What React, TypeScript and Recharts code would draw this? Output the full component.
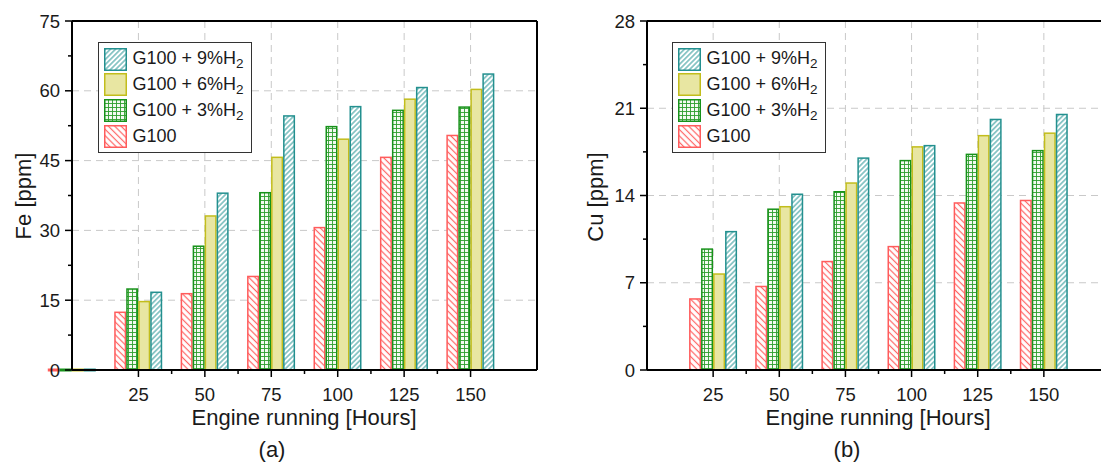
import { BarChart, Bar, XAxis, YAxis, CartesianGrid, ReferenceLine } from 'recharts'

// engine running time [h]
const feHours = [0, 25, 50, 75, 100, 125, 150]
const cuHours = [25, 50, 75, 100, 125, 150]

// Fe [ppm]
const feG100 = [0, 12.4, 16.4, 20.1, 30.6, 45.7, 50.4]
const feH3 = [0, 17.4, 26.6, 38.1, 52.3, 55.8, 56.5]
const feH6 = [0, 14.7, 33.1, 45.7, 49.6, 58.2, 60.3]
const feH9 = [0, 16.7, 38.0, 54.6, 56.6, 60.7, 63.6]

// Cu [ppm]
const cuG100 = [5.7, 6.7, 8.7, 9.9, 13.4, 13.6]
const cuH3 = [9.7, 12.9, 14.3, 16.8, 17.3, 17.6]
const cuH6 = [7.7, 13.1, 15.0, 17.9, 18.8, 19.0]
const cuH9 = [11.1, 14.1, 17.0, 18.0, 20.1, 20.5]

const hourTicks = [25, 50, 75, 100, 125, 150]
const hourMinorTicks = [37.5, 62.5, 87.5, 112.5, 137.5]
const feTicks = [0, 15, 30, 45, 60, 75]
const feMinorTicks = [7.5, 22.5, 37.5, 52.5, 67.5]
const cuTicks = [0, 7, 14, 21, 28]
const cuMinorTicks = [3.5, 10.5, 17.5, 24.5]

const HOUR_MAX = 175
const FONT = '"Liberation Sans", Arial, sans-serif'
const TEXT = '#1a1a1a'

const SERIES = [
  { key: 'g100', label: 'G100', sub: '', stroke: '#FF5C5C', fill: 'url(#pat-g100)' },
  { key: 'h3', label: 'G100 + 3%H', sub: '2', stroke: '#17921A', fill: 'url(#pat-h3)' },
  { key: 'h6', label: 'G100 + 6%H', sub: '2', stroke: '#C2BD1C', fill: '#E8E6A2' },
  { key: 'h9', label: 'G100 + 9%H', sub: '2', stroke: '#23908F', fill: 'url(#pat-h9)' },
]

const feData = feHours.map((h, i) => ({ hours: h, g100: feG100[i], h3: feH3[i], h6: feH6[i], h9: feH9[i] }))
const cuData = cuHours.map((h, i) => ({ hours: h, g100: cuG100[i], h3: cuH3[i], h6: cuH6[i], h9: cuH9[i] }))

const sortNum = (a: number[]) => [...a].sort((p, q) => p - q)

function Patterns() {
  return (
    <svg width={0} height={0} style={{ position: 'absolute' }}>
      <defs>
        <pattern id="pat-g100" patternUnits="userSpaceOnUse" width={4.5} height={4.5} patternTransform="rotate(-45)">
          <rect width={4.5} height={4.5} fill="#fff" />
          <line x1={2.25} y1={0} x2={2.25} y2={4.5} stroke="#FF6363" strokeWidth={1.2} />
        </pattern>
        <pattern id="pat-h9" patternUnits="userSpaceOnUse" width={3.6} height={3.6} patternTransform="rotate(45)">
          <rect width={3.6} height={3.6} fill="#fff" />
          <line x1={1.8} y1={0} x2={1.8} y2={3.6} stroke="#2A9797" strokeWidth={1} />
        </pattern>
        <pattern id="pat-h3" patternUnits="userSpaceOnUse" width={4} height={4}>
          <rect width={4} height={4} fill="#F3FAF1" />
          <path d="M0 0.5 H4 M0.5 0 V4" stroke="#2C9E2C" strokeWidth={0.9} />
        </pattern>
      </defs>
    </svg>
  )
}

const BarShape = (props: any) => {
  const { x, y, width, height, color, pattern } = props
  if (!height || Math.abs(height) < 0.5) {
    // zero readings still show as a flat coloured edge on the baseline
    return <line x1={x} x2={x + width} y1={y} y2={y} stroke={color} strokeWidth={3} />
  }
  return <rect x={x + 0.75} y={y} width={width - 1.5} height={height} fill={pattern} stroke={color} strokeWidth={1.5} />
}

const XTick = (props: any) => {
  const { x, y, payload } = props
  const major = hourTicks.includes(payload.value)
  return (
    <g>
      <line x1={x} x2={x} y1={y} y2={y + (major ? 7 : 4)} stroke="#000" strokeWidth={1.5} />
      {major && (
        <text x={x} y={y + 31} textAnchor="middle" fontSize={18.5} fill={TEXT} fontFamily={FONT}>
          {payload.value}
        </text>
      )}
    </g>
  )
}

const makeYTick = (majors: number[]) => (props: any) => {
  const { x, y, payload } = props
  const major = majors.includes(payload.value)
  return (
    <g>
      <line x1={x - (major ? 7 : 4)} x2={x} y1={y} y2={y} stroke="#000" strokeWidth={1.5} />
      {major && (
        <text x={x - 12} y={y + 6.6} textAnchor="end" fontSize={18.5} fill={TEXT} fontFamily={FONT}>
          {payload.value}
        </text>
      )}
    </g>
  )
}

function SeriesLegend({ left, top }: { left: number; top: number }) {
  return (
    <div
      style={{
        position: 'absolute', left, top, width: 154, height: 111, boxSizing: 'border-box',
        border: '1.5px solid #333', background: '#fff',
      }}
    >
      {[...SERIES].reverse().map((s, i) => (
        <div key={s.key} style={{ position: 'absolute', left: 4.5, top: 4.5 + i * 25.9, height: 23, display: 'flex', alignItems: 'center' }}>
          <svg width={23} height={23} style={{ display: 'block' }}>
            <rect x={0.75} y={0.75} width={21.5} height={21.5} fill={s.fill} stroke={s.stroke} strokeWidth={1.5} />
          </svg>
          <span style={{ marginLeft: 6, fontSize: 18, color: TEXT, whiteSpace: 'nowrap', lineHeight: '23px' }}>
            {s.label}
            {s.sub && <span style={{ fontSize: 13.5, position: 'relative', top: 4 }}>{s.sub}</span>}
          </span>
        </div>
      ))}
    </div>
  )
}

interface PanelProps {
  data: any[]
  left: number
  yWidth: number
  right: number
  yMax: number
  yTicks: number[]
  yMinor: number[]
}

function Panel({ data, left, yWidth, right, yMax, yTicks, yMinor }: PanelProps) {
  const yGrid = yTicks.filter((t) => t > 0 && t < yMax)
  return (
    <div style={{ position: 'absolute', left, top: 0 }}>
      <BarChart width={560} height={464} data={data} margin={{ top: 21, right, left: 0, bottom: 0 }} barGap={0} barSize={12}>
        <CartesianGrid stroke="#C9C9C9" strokeDasharray="7 5" verticalValues={hourTicks} horizontalValues={yGrid} />
        <XAxis
          dataKey="hours"
          type="number"
          domain={[0, HOUR_MAX]}
          ticks={sortNum([...hourTicks, ...hourMinorTicks])}
          interval={0}
          height={94}
          stroke="#000"
          tickSize={0}
          tickMargin={0}
          tickLine={false}
          axisLine={{ stroke: '#000', strokeWidth: 2 }}
          tick={(p: any) => <XTick {...p} />}
        />
        <YAxis
          type="number"
          domain={[0, yMax]}
          ticks={sortNum([...yTicks, ...yMinor])}
          interval={0}
          width={yWidth}
          stroke="#000"
          tickSize={0}
          tickMargin={0}
          tickLine={false}
          axisLine={{ stroke: '#000', strokeWidth: 2 }}
          tick={makeYTick(yTicks)}
        />
        <ReferenceLine y={yMax} stroke="#000" strokeWidth={2} />
        <ReferenceLine x={HOUR_MAX} stroke="#000" strokeWidth={2} />
        {SERIES.map((s) => (
          <Bar
            key={s.key}
            dataKey={s.key}
            name={s.label + s.sub}
            barSize={12}
            isAnimationActive={false}
            shape={(p: any) => <BarShape {...p} color={s.stroke} pattern={s.fill} />}
          />
        ))}
      </BarChart>
    </div>
  )
}

const centered = (x: number, y: number, rotate = false) => ({
  position: 'absolute' as const,
  left: x,
  top: y,
  transform: 'translate(-50%, -50%)' + (rotate ? ' rotate(-90deg)' : ''),
  fontSize: 22,
  color: TEXT,
  whiteSpace: 'nowrap' as const,
})

export default function App() {
  return (
    <div style={{ position: 'absolute', left: 0, top: 0, width: 1101, height: 464, overflow: 'hidden', background: '#fff', fontFamily: FONT }}>
      <Patterns />
      <Panel data={feData} left={0} yWidth={72} right={23} yMax={75} yTicks={feTicks} yMinor={feMinorTicks} />
      <Panel data={cuData} left={560} yWidth={87} right={10} yMax={28} yTicks={cuTicks} yMinor={cuMinorTicks} />

      <SeriesLegend left={98} top={42} />
      <SeriesLegend left={672} top={42} />

      <div style={centered(24, 196, true)}>Fe [ppm]</div>
      <div style={centered(596, 197, true)}>Cu [ppm]</div>
      <div style={centered(304, 418)}>Engine running [Hours]</div>
      <div style={centered(878, 418)}>Engine running [Hours]</div>
      <div style={centered(272, 450)}>(a)</div>
      <div style={centered(847, 450)}>(b)</div>
    </div>
  )
}
